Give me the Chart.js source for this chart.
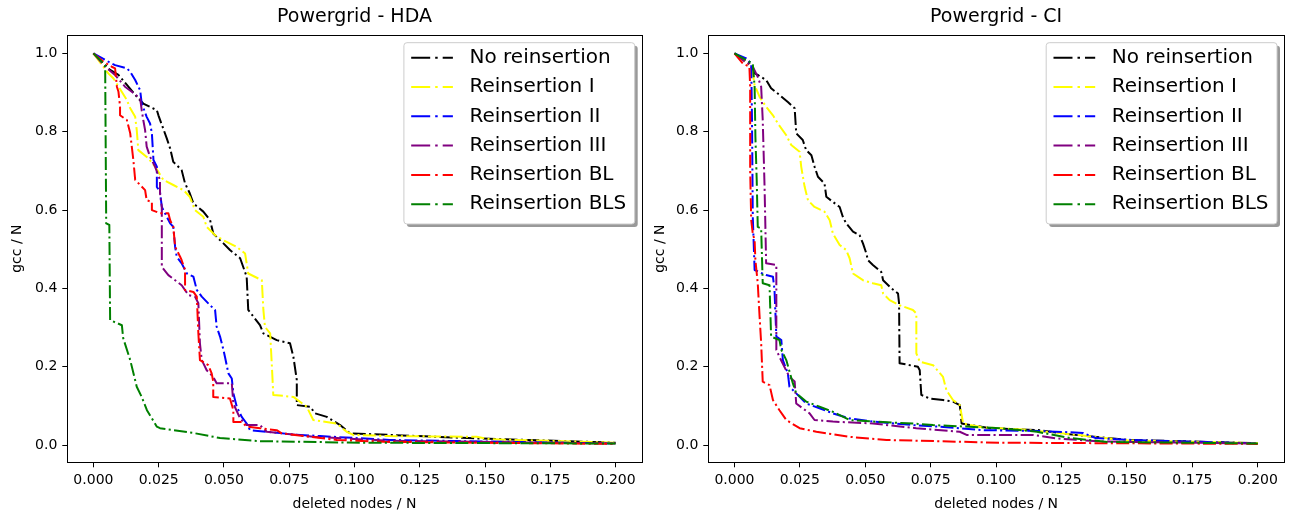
<!DOCTYPE html>
<html>
<head>
<meta charset="utf-8">
<script src="https://cdn.jsdelivr.net/npm/chart.js@4.4.1/dist/chart.umd.min.js"></script>
<style>
  html, body { margin: 0; padding: 0; background: #fff; }
  .panel { position: absolute; top: 0; height: 517px; }
  #hdaBox { left: 0; width: 650px; }
  #ciBox  { left: 650px; width: 639px; }
</style>
</head>
<body>
<div class="panel" id="hdaBox"><canvas id="hda"></canvas></div>
<div class="panel" id="ciBox"><canvas id="ci"></canvas></div>
<script>
const labels = ['No reinsertion', 'Reinsertion I', 'Reinsertion II', 'Reinsertion III', 'Reinsertion BL', 'Reinsertion BLS'];
const colors = ['#000000', '#ffff00', '#0000ff', '#800080', '#ff0000', '#008000'];
const xTicks = [0, 0.025, 0.05, 0.075, 0.1, 0.125, 0.15, 0.175, 0.2];
const yTicks = [0, 0.2, 0.4, 0.6, 0.8, 1.0];

// Powergrid - HDA
const hdaNoX = [0, 0.0064, 0.0096, 0.0172, 0.0191, 0.0243, 0.0249, 0.0281, 0.0294, 0.0306, 0.0338, 0.0351, 0.0369, 0.0383, 0.0421, 0.0447, 0.0459, 0.0498, 0.0523, 0.0562, 0.0587, 0.0593, 0.0613, 0.0638, 0.0651, 0.0702, 0.0753, 0.0766, 0.0779, 0.0779, 0.0830, 0.0849, 0.0894, 0.0945, 0.0983, 0.1136, 0.1468, 0.2];
const hdaNoY = [1.0, 0.958, 0.945, 0.885, 0.872, 0.855, 0.842, 0.783, 0.757, 0.723, 0.702, 0.668, 0.643, 0.617, 0.596, 0.574, 0.540, 0.515, 0.498, 0.477, 0.430, 0.345, 0.328, 0.306, 0.285, 0.268, 0.260, 0.225, 0.166, 0.102, 0.098, 0.081, 0.072, 0.051, 0.030, 0.026, 0.017, 0.006];
const hdaIX = [0, 0.0057, 0.0077, 0.0128, 0.0141, 0.0160, 0.0166, 0.0172, 0.0211, 0.0236, 0.0268, 0.0306, 0.0345, 0.0369, 0.0389, 0.0421, 0.0434, 0.0466, 0.0498, 0.0549, 0.0581, 0.0593, 0.0645, 0.0651, 0.0657, 0.0677, 0.0683, 0.0689, 0.0766, 0.0817, 0.0842, 0.0932, 0.0970, 0.0995, 0.1136, 0.1468, 0.1519, 0.2];
const hdaIY = [1.0, 0.949, 0.936, 0.881, 0.860, 0.838, 0.804, 0.753, 0.732, 0.711, 0.677, 0.664, 0.651, 0.634, 0.600, 0.583, 0.557, 0.536, 0.523, 0.506, 0.489, 0.438, 0.421, 0.345, 0.302, 0.285, 0.209, 0.128, 0.123, 0.098, 0.064, 0.055, 0.034, 0.026, 0.023, 0.021, 0.015, 0.006];
const hdaIIX = [0, 0.0057, 0.0083, 0.0128, 0.0141, 0.0160, 0.0179, 0.0185, 0.0204, 0.0217, 0.0224, 0.0230, 0.0243, 0.0243, 0.0255, 0.0262, 0.0281, 0.0294, 0.0306, 0.0313, 0.0319, 0.0338, 0.0358, 0.0383, 0.0396, 0.0415, 0.0447, 0.0466, 0.0472, 0.0485, 0.0498, 0.0504, 0.0517, 0.0530, 0.0536, 0.0549, 0.0568, 0.0587, 0.0600, 0.0664, 0.0766, 0.0868, 0.1136, 0.2];
const hdaIIY = [1.0, 0.979, 0.970, 0.962, 0.953, 0.932, 0.906, 0.872, 0.838, 0.821, 0.796, 0.728, 0.711, 0.659, 0.647, 0.608, 0.583, 0.566, 0.557, 0.506, 0.481, 0.464, 0.438, 0.430, 0.396, 0.379, 0.357, 0.345, 0.302, 0.277, 0.243, 0.225, 0.183, 0.170, 0.132, 0.098, 0.072, 0.055, 0.038, 0.034, 0.027, 0.023, 0.013, 0.004];
const hdaIIIX = [0, 0.0045, 0.0083, 0.0121, 0.0147, 0.0179, 0.0185, 0.0191, 0.0198, 0.0204, 0.0217, 0.0236, 0.0255, 0.0255, 0.0262, 0.0262, 0.0287, 0.0313, 0.0338, 0.0364, 0.0389, 0.0402, 0.0408, 0.0415, 0.0434, 0.0459, 0.0472, 0.0530, 0.0536, 0.0562, 0.0587, 0.0638, 0.0664, 0.0766, 0.0842, 0.1136, 0.2];
const hdaIIIY = [1.0, 0.966, 0.945, 0.915, 0.902, 0.885, 0.855, 0.830, 0.804, 0.762, 0.736, 0.711, 0.677, 0.643, 0.608, 0.455, 0.434, 0.421, 0.408, 0.383, 0.379, 0.362, 0.260, 0.217, 0.191, 0.174, 0.158, 0.158, 0.106, 0.068, 0.051, 0.051, 0.034, 0.027, 0.021, 0.011, 0.004];
const hdaBLX = [0, 0.0038, 0.0070, 0.0083, 0.0090, 0.0096, 0.0102, 0.0102, 0.0128, 0.0141, 0.0147, 0.0153, 0.0160, 0.0179, 0.0198, 0.0204, 0.0224, 0.0224, 0.0255, 0.0287, 0.0294, 0.0306, 0.0313, 0.0332, 0.0338, 0.0351, 0.0351, 0.0383, 0.0396, 0.0402, 0.0408, 0.0440, 0.0453, 0.0459, 0.0459, 0.0523, 0.0536, 0.0536, 0.0568, 0.0587, 0.0638, 0.0702, 0.0721, 0.0830, 0.0932, 0.1136, 0.2];
const hdaBLY = [1.0, 0.979, 0.966, 0.962, 0.915, 0.902, 0.864, 0.842, 0.830, 0.796, 0.762, 0.728, 0.677, 0.664, 0.651, 0.625, 0.621, 0.600, 0.592, 0.592, 0.574, 0.557, 0.506, 0.481, 0.472, 0.447, 0.396, 0.391, 0.379, 0.285, 0.217, 0.204, 0.183, 0.162, 0.123, 0.119, 0.089, 0.059, 0.059, 0.047, 0.043, 0.038, 0.030, 0.021, 0.013, 0.008, 0.003];
const hdaBLSX = [0, 0.0045, 0.0049, 0.0061, 0.0064, 0.0109, 0.0114, 0.0141, 0.0166, 0.0185, 0.0205, 0.0243, 0.0255, 0.0382, 0.0485, 0.0638, 0.102, 0.2];
const hdaBLSY = [1.0, 0.970, 0.566, 0.562, 0.319, 0.306, 0.273, 0.217, 0.149, 0.123, 0.089, 0.047, 0.043, 0.031, 0.018, 0.010, 0.006, 0.004];

// Powergrid - CI
const ciNoX = [0, 0.0057, 0.0077, 0.0089, 0.0121, 0.0140, 0.0172, 0.0204, 0.0230, 0.0236, 0.0261, 0.0274, 0.0294, 0.0306, 0.0319, 0.0344, 0.0351, 0.0376, 0.0402, 0.0414, 0.0427, 0.0453, 0.0478, 0.0491, 0.0504, 0.0510, 0.0529, 0.0561, 0.0568, 0.0600, 0.0625, 0.0629, 0.0631, 0.0701, 0.0708, 0.0714, 0.0746, 0.0797, 0.0835, 0.0861, 0.0868, 0.0976, 0.1167, 0.127, 0.151, 0.2];
const ciNoY = [1.0, 0.974, 0.949, 0.945, 0.932, 0.911, 0.894, 0.876, 0.860, 0.796, 0.779, 0.753, 0.740, 0.711, 0.685, 0.668, 0.634, 0.621, 0.608, 0.583, 0.566, 0.545, 0.536, 0.515, 0.489, 0.472, 0.460, 0.442, 0.421, 0.400, 0.387, 0.362, 0.209, 0.200, 0.191, 0.128, 0.119, 0.115, 0.111, 0.102, 0.055, 0.043, 0.038, 0.028, 0.013, 0.005];
const ciIX = [0, 0.0032, 0.0057, 0.0070, 0.0077, 0.0096, 0.0121, 0.0147, 0.0166, 0.0198, 0.0217, 0.0249, 0.0255, 0.0268, 0.0281, 0.0306, 0.0344, 0.0364, 0.0376, 0.0402, 0.0427, 0.0440, 0.0453, 0.0491, 0.0529, 0.0561, 0.0568, 0.0593, 0.0631, 0.0682, 0.0695, 0.0695, 0.0708, 0.0759, 0.0797, 0.0810, 0.0835, 0.0861, 0.0868, 0.0874, 0.095, 0.11, 0.125, 0.15, 0.2];
const ciIY = [1.0, 0.983, 0.970, 0.949, 0.919, 0.889, 0.864, 0.842, 0.821, 0.791, 0.766, 0.749, 0.711, 0.660, 0.625, 0.608, 0.596, 0.574, 0.540, 0.511, 0.498, 0.477, 0.438, 0.421, 0.413, 0.408, 0.387, 0.370, 0.357, 0.345, 0.336, 0.234, 0.213, 0.204, 0.174, 0.140, 0.115, 0.102, 0.077, 0.055, 0.045, 0.040, 0.030, 0.012, 0.005];
const ciIIX = [0, 0.0045, 0.0064, 0.0067, 0.0070, 0.0077, 0.0121, 0.0147, 0.0153, 0.0160, 0.0179, 0.0185, 0.0204, 0.0210, 0.0236, 0.0274, 0.0325, 0.0376, 0.0440, 0.0529, 0.0682, 0.0785, 0.0950, 0.1167, 0.1332, 0.138, 0.152, 0.2];
const ciIIY = [1.0, 0.987, 0.974, 0.830, 0.583, 0.447, 0.434, 0.430, 0.396, 0.277, 0.268, 0.217, 0.183, 0.149, 0.132, 0.106, 0.094, 0.081, 0.068, 0.060, 0.051, 0.047, 0.038, 0.036, 0.031, 0.018, 0.013, 0.004];
const ciIIIX = [0, 0.0032, 0.0070, 0.0089, 0.0102, 0.0108, 0.0115, 0.0121, 0.0160, 0.0160, 0.0172, 0.0210, 0.0230, 0.0236, 0.0287, 0.0306, 0.0376, 0.0529, 0.0695, 0.0861, 0.0887, 0.1140, 0.1232, 0.140, 0.2];
const ciIIIY = [1.0, 0.983, 0.966, 0.940, 0.915, 0.830, 0.660, 0.464, 0.460, 0.243, 0.225, 0.174, 0.162, 0.106, 0.081, 0.064, 0.060, 0.055, 0.043, 0.034, 0.026, 0.026, 0.017, 0.009, 0.004];
const ciBLX = [0, 0.0032, 0.0057, 0.0060, 0.0060, 0.0064, 0.0070, 0.0077, 0.0080, 0.0089, 0.0096, 0.0102, 0.0108, 0.0134, 0.0147, 0.0172, 0.0198, 0.0249, 0.0313, 0.0440, 0.0581, 0.1014, 0.2];
const ciBLY = [1.0, 0.974, 0.966, 0.915, 0.702, 0.574, 0.540, 0.523, 0.472, 0.413, 0.328, 0.260, 0.162, 0.153, 0.115, 0.089, 0.064, 0.043, 0.034, 0.021, 0.013, 0.006, 0.003];
const ciBLSX = [0, 0.0045, 0.0070, 0.0077, 0.0080, 0.0085, 0.0089, 0.0102, 0.0108, 0.0134, 0.0140, 0.0172, 0.0179, 0.0198, 0.0223, 0.0236, 0.0274, 0.0325, 0.0376, 0.0440, 0.0529, 0.0682, 0.0759, 0.1014, 0.1156, 0.1282, 0.1424, 0.2];
const ciBLSY = [1.0, 0.983, 0.974, 0.915, 0.787, 0.677, 0.557, 0.553, 0.413, 0.408, 0.277, 0.268, 0.243, 0.217, 0.158, 0.132, 0.111, 0.098, 0.085, 0.064, 0.060, 0.055, 0.051, 0.043, 0.034, 0.018, 0.008, 0.004];

Chart.defaults.font.family = '"DejaVu Sans", sans-serif';
Chart.defaults.color = '#000';

const dashDot   = [13, 3.3, 2.1, 3.3];
const legendDash = [19, 5, 2.5, 5];

// matplotlib-style frame around the axes
const frame = {
    id: 'frame',
    afterDatasetsDraw(chart) {
        const { ctx, chartArea: a } = chart;
        ctx.save();
        ctx.strokeStyle = '#000';
        ctx.lineWidth = 1;
        const l = Math.round(a.left) + 0.5, t = Math.round(a.top) + 0.5;
        const r = Math.round(a.right) + 0.5, b = Math.round(a.bottom) + 0.5;
        ctx.strokeRect(l, t, r - l, b - t);
        ctx.restore();
    },
};

// legend box in the upper right corner, with shadow
const boxLegend = {
    id: 'boxLegend',
    afterDraw(chart) {
        const { ctx, chartArea: a } = chart;
        const sets = chart.data.datasets;
        ctx.save();
        ctx.font = '20px "DejaVu Sans"';
        const textW = Math.max(...sets.map(d => ctx.measureText(d.label).width));
        const w = 7.3 + 41.7 + 16.6 + textW + 8.5;
        const h = 181.3;
        const x = a.right - 7 - w;
        const y = a.top + 7.7;

        ctx.fillStyle = 'rgba(0,0,0,0.4)';
        ctx.beginPath();
        ctx.roundRect(x + 3, y + 3, w, h, 3);
        ctx.fill();

        ctx.fillStyle = '#fff';
        ctx.strokeStyle = '#cccccc';
        ctx.lineWidth = 1;
        ctx.beginPath();
        ctx.roundRect(x, y, w, h, 3);
        ctx.fill();
        ctx.stroke();

        sets.forEach((d, i) => {
            const cy = y + 15 + i * 29.3;
            ctx.strokeStyle = d.borderColor;
            ctx.lineWidth = 2;
            ctx.setLineDash(legendDash);
            ctx.beginPath();
            ctx.moveTo(x + 7.3, cy);
            ctx.lineTo(x + 49, cy);
            ctx.stroke();
            ctx.setLineDash([]);
            ctx.fillStyle = '#000';
            ctx.textAlign = 'left';
            ctx.textBaseline = 'middle';
            ctx.fillText(d.label, x + 65.6, cy);
        });
        ctx.restore();
    },
};

function renderPanel(canvasId, title, xs, ys, box) {
    return new Chart(document.getElementById(canvasId), {
        type: 'line',
        data: {
            datasets: labels.map((label, i) => ({
                label:           label,
                data:            xs[i].map((x, j) => ({ x: x, y: ys[i][j] })),
                borderColor:     colors[i],
                backgroundColor: colors[i],
                borderWidth:     2,
                borderDash:      dashDot,
                borderJoinStyle: 'round',
                pointRadius:     0,
                tension:         0,
                fill:            false,
                order:           labels.length - i,
            })),
        },
        options: {
            responsive:          true,
            maintainAspectRatio: false,
            animation:           false,
            layout: { padding: { left: 0, right: box.right, top: 0, bottom: 0 } },
            plugins: {
                legend:  { display: false },
                tooltip: { enabled: false },
                title: {
                    display:  true,
                    text:     title,
                    fullSize: false,
                    color:    '#000',
                    font:     { size: 19, weight: 'normal' },
                    padding:  { top: 6, bottom: 6.2 },
                },
            },
            scales: {
                x: {
                    type: 'linear',
                    min:  -0.01,
                    max:  0.21,
                    afterBuildTicks: s => { s.ticks = xTicks.map(v => ({ value: v })); },
                    afterFit:        s => { s.height = 54.7; },
                    ticks:  { color: '#000', font: { size: 14 }, padding: 5, maxRotation: 0, autoSkip: false,
                              callback: v => v.toFixed(3) },
                    grid:   { drawOnChartArea: false, color: '#000', tickLength: 5 },
                    border: { display: false },
                    title:  { display: true, text: 'deleted nodes / N', color: '#000', font: { size: 14 },
                              padding: { top: 0, bottom: 4.6 } },
                },
                y: {
                    min: -0.044,
                    max: 1.047,
                    afterBuildTicks: s => { s.ticks = yTicks.map(v => ({ value: v })); },
                    afterFit:        s => { s.width = box.yWidth; },
                    ticks:  { color: '#000', font: { size: 14 }, padding: 5, autoSkip: false,
                              callback: v => v.toFixed(1) },
                    grid:   { drawOnChartArea: false, color: '#000', tickLength: 5 },
                    border: { display: false },
                    title:  { display: true, text: 'gcc / N', color: '#000', font: { size: 14 },
                              padding: { top: box.yTitle, bottom: 0 } },
                },
            },
        },
        plugins: [frame, boxLegend],
    });
}

renderPanel('hda', 'Powergrid - HDA',
    [hdaNoX, hdaIX, hdaIIX, hdaIIIX, hdaBLX, hdaBLSX],
    [hdaNoY, hdaIY, hdaIIY, hdaIIIY, hdaBLY, hdaBLSY],
    { right: 8.3, yWidth: 67.3, yTitle: 8.6 });

renderPanel('ci', 'Powergrid - CI',
    [ciNoX, ciIX, ciIIX, ciIIIX, ciBLX, ciBLSX],
    [ciNoY, ciIY, ciIIY, ciIIIY, ciBLY, ciBLSY],
    { right: 5, yWidth: 58.3, yTitle: 1.5 });
</script>
</body>
</html>
